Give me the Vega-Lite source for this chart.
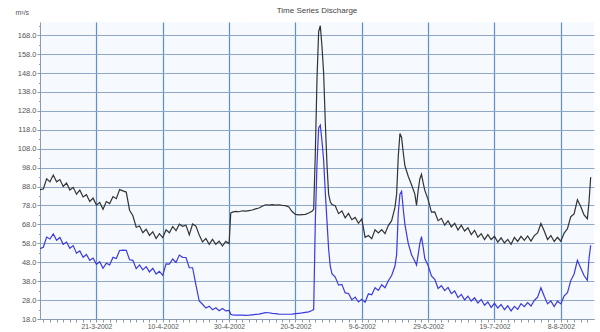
{
  "$schema": "https://vega.github.io/schema/vega-lite/v6.json",
  "autosize": "none",
  "width": 554,
  "height": 297,
  "padding": {"left": 40, "top": 22, "right": 6, "bottom": 13},
  "background": "white",
  "title": {"text": "Time Series Discharge", "fontSize": 8, "fontWeight": "normal", "color": "#444", "font": "Liberation Sans", "offset": -7},
  "data": {"values": [
    {"t":"2002-03-04","upper":86.4,"lower":55.2},
    {"t":"2002-03-05","upper":86.7,"lower":55.9},
    {"t":"2002-03-06","upper":92.1,"lower":61.3},
    {"t":"2002-03-07","upper":90.5,"lower":60.3},
    {"t":"2002-03-08","upper":94.1,"lower":63},
    {"t":"2002-03-09","upper":90.5,"lower":59.6},
    {"t":"2002-03-10","upper":91.7,"lower":61.1},
    {"t":"2002-03-11","upper":88.1,"lower":57.5},
    {"t":"2002-03-12","upper":89.9,"lower":58.7},
    {"t":"2002-03-13","upper":86.2,"lower":55.4},
    {"t":"2002-03-14","upper":87.6,"lower":56.8},
    {"t":"2002-03-15","upper":84,"lower":52.8},
    {"t":"2002-03-16","upper":86.1,"lower":54},
    {"t":"2002-03-17","upper":82.5,"lower":50.6},
    {"t":"2002-03-18","upper":83.7,"lower":52.1},
    {"t":"2002-03-19","upper":80.1,"lower":49},
    {"t":"2002-03-20","upper":81.9,"lower":50.2},
    {"t":"2002-03-21","upper":78.2,"lower":46.9},
    {"t":"2002-03-22","upper":79.6,"lower":48.3},
    {"t":"2002-03-23","upper":76,"lower":44.8},
    {"t":"2002-03-24","upper":80.1,"lower":47.5},
    {"t":"2002-03-25","upper":79,"lower":46.6},
    {"t":"2002-03-26","upper":82.7,"lower":50.6},
    {"t":"2002-03-27","upper":81.6,"lower":50},
    {"t":"2002-03-28","upper":86.4,"lower":54.2},
    {"t":"2002-03-29","upper":85.7,"lower":54.4},
    {"t":"2002-03-30","upper":85.1,"lower":54.3},
    {"t":"2002-03-31","upper":75.5,"lower":49.3},
    {"t":"2002-04-01","upper":72.6,"lower":49},
    {"t":"2002-04-02","upper":66.5,"lower":44.6},
    {"t":"2002-04-03","upper":67.2,"lower":46.6},
    {"t":"2002-04-04","upper":63.6,"lower":44},
    {"t":"2002-04-05","upper":65.4,"lower":45.7},
    {"t":"2002-04-06","upper":62.2,"lower":42.9},
    {"t":"2002-04-07","upper":64.1,"lower":44.8},
    {"t":"2002-04-08","upper":60.5,"lower":41.8},
    {"t":"2002-04-09","upper":63.1,"lower":43.2},
    {"t":"2002-04-10","upper":61,"lower":41.1},
    {"t":"2002-04-11","upper":65.2,"lower":47.1},
    {"t":"2002-04-12","upper":63.6,"lower":47},
    {"t":"2002-04-13","upper":66.9,"lower":49.7},
    {"t":"2002-04-14","upper":64.7,"lower":47.9},
    {"t":"2002-04-15","upper":68.1,"lower":51.8},
    {"t":"2002-04-16","upper":67,"lower":50.6},
    {"t":"2002-04-17","upper":67.6,"lower":50.5},
    {"t":"2002-04-18","upper":62.5,"lower":45.1},
    {"t":"2002-04-19","upper":68.2,"lower":45.1},
    {"t":"2002-04-20","upper":67.1,"lower":36},
    {"t":"2002-04-21","upper":62.4,"lower":27.5},
    {"t":"2002-04-22","upper":58.7,"lower":25.8},
    {"t":"2002-04-23","upper":60.6,"lower":23.8},
    {"t":"2002-04-24","upper":57.5,"lower":24.8},
    {"t":"2002-04-25","upper":60.1,"lower":22.9},
    {"t":"2002-04-26","upper":57.5,"lower":23.9},
    {"t":"2002-04-27","upper":59.2,"lower":22.4},
    {"t":"2002-04-28","upper":56.6,"lower":23.6},
    {"t":"2002-04-29","upper":59,"lower":22.3},
    {"t":"2002-04-30T00:00Z","upper":57.8,"lower":22.5},
    {"t":"2002-04-30T12:00Z","upper":74,"lower":20.5},
    {"t":"2002-05-01","upper":74.5,"lower":20.2},
    {"t":"2002-05-02","upper":74.9,"lower":20.1},
    {"t":"2002-05-03","upper":74.7,"lower":20},
    {"t":"2002-05-04","upper":75.2,"lower":20},
    {"t":"2002-05-05","upper":75,"lower":19.9},
    {"t":"2002-05-06","upper":75.3,"lower":20},
    {"t":"2002-05-07","upper":75.6,"lower":20.2},
    {"t":"2002-05-08","upper":76.2,"lower":20.4},
    {"t":"2002-05-09","upper":76.7,"lower":20.6},
    {"t":"2002-05-10","upper":77.6,"lower":21},
    {"t":"2002-05-11","upper":78.4,"lower":21.4},
    {"t":"2002-05-12","upper":78.2,"lower":21.3},
    {"t":"2002-05-13","upper":78.5,"lower":21},
    {"t":"2002-05-14","upper":78.2,"lower":20.8},
    {"t":"2002-05-15","upper":78.4,"lower":20.6},
    {"t":"2002-05-16","upper":78.1,"lower":20.5},
    {"t":"2002-05-17","upper":77.9,"lower":20.5},
    {"t":"2002-05-18","upper":77.2,"lower":20.5},
    {"t":"2002-05-19","upper":74.8,"lower":20.6},
    {"t":"2002-05-20","upper":73.3,"lower":20.8},
    {"t":"2002-05-21","upper":73,"lower":21},
    {"t":"2002-05-22","upper":73.2,"lower":21.2},
    {"t":"2002-05-23","upper":73.3,"lower":21.5},
    {"t":"2002-05-24","upper":74,"lower":21.8},
    {"t":"2002-05-25","upper":75,"lower":22.5},
    {"t":"2002-05-25T12:00Z","upper":76,"lower":23},
    {"t":"2002-05-26","upper":106,"lower":70},
    {"t":"2002-05-26T12:00Z","upper":145,"lower":100},
    {"t":"2002-05-27","upper":170,"lower":119},
    {"t":"2002-05-27T12:00Z","upper":173,"lower":120.5},
    {"t":"2002-05-28","upper":162,"lower":112},
    {"t":"2002-05-28T12:00Z","upper":148,"lower":102},
    {"t":"2002-05-29","upper":122,"lower":85},
    {"t":"2002-05-29T12:00Z","upper":100,"lower":70},
    {"t":"2002-05-30","upper":84,"lower":55},
    {"t":"2002-05-30T12:00Z","upper":80,"lower":46},
    {"t":"2002-05-31","upper":78.5,"lower":42},
    {"t":"2002-06-01","upper":77.9,"lower":40.2},
    {"t":"2002-06-02","upper":73.7,"lower":35.9},
    {"t":"2002-06-03","upper":75.1,"lower":36.3},
    {"t":"2002-06-04","upper":71.5,"lower":31.8},
    {"t":"2002-06-05","upper":73.8,"lower":31.5},
    {"t":"2002-06-06","upper":70.5,"lower":28.1},
    {"t":"2002-06-07","upper":71.7,"lower":29.6},
    {"t":"2002-06-08","upper":68.6,"lower":27},
    {"t":"2002-06-09","upper":70.9,"lower":28.4},
    {"t":"2002-06-10","upper":61.2,"lower":26.9},
    {"t":"2002-06-11","upper":62.1,"lower":31.3},
    {"t":"2002-06-12","upper":60.5,"lower":30.8},
    {"t":"2002-06-13","upper":65.1,"lower":34.5},
    {"t":"2002-06-14","upper":63.5,"lower":33.1},
    {"t":"2002-06-15","upper":65.2,"lower":36.1},
    {"t":"2002-06-16","upper":63.1,"lower":34.5},
    {"t":"2002-06-17","upper":67.4,"lower":38.2},
    {"t":"2002-06-18","upper":70,"lower":41},
    {"t":"2002-06-19","upper":77,"lower":46},
    {"t":"2002-06-19T12:00Z","upper":84,"lower":52},
    {"t":"2002-06-20","upper":104,"lower":74},
    {"t":"2002-06-20T12:00Z","upper":116,"lower":84},
    {"t":"2002-06-21","upper":114,"lower":85.5},
    {"t":"2002-06-21T12:00Z","upper":106,"lower":76},
    {"t":"2002-06-22","upper":99,"lower":68},
    {"t":"2002-06-23","upper":93.5,"lower":58},
    {"t":"2002-06-24","upper":89,"lower":52},
    {"t":"2002-06-25","upper":84,"lower":48.5},
    {"t":"2002-06-25T12:00Z","upper":78,"lower":46.5},
    {"t":"2002-06-26","upper":86,"lower":52},
    {"t":"2002-06-26T12:00Z","upper":92,"lower":58},
    {"t":"2002-06-27","upper":94.5,"lower":61.5},
    {"t":"2002-06-27T12:00Z","upper":90,"lower":56},
    {"t":"2002-06-28","upper":86,"lower":50},
    {"t":"2002-06-29","upper":81.1,"lower":46.3},
    {"t":"2002-06-30","upper":74.5,"lower":40.8},
    {"t":"2002-07-01","upper":74.6,"lower":39},
    {"t":"2002-07-02","upper":70,"lower":34.1},
    {"t":"2002-07-03","upper":71.2,"lower":35.6},
    {"t":"2002-07-04","upper":67.6,"lower":33},
    {"t":"2002-07-05","upper":69.9,"lower":34.7},
    {"t":"2002-07-06","upper":66.7,"lower":31.4},
    {"t":"2002-07-07","upper":68.6,"lower":32.8},
    {"t":"2002-07-08","upper":65,"lower":29.3},
    {"t":"2002-07-09","upper":67.6,"lower":31},
    {"t":"2002-07-10","upper":64.5,"lower":28.1},
    {"t":"2002-07-11","upper":66.2,"lower":30.1},
    {"t":"2002-07-12","upper":62.6,"lower":27.5},
    {"t":"2002-07-13","upper":64.9,"lower":29.2},
    {"t":"2002-07-14","upper":61.2,"lower":26.4},
    {"t":"2002-07-15","upper":63.1,"lower":28.3},
    {"t":"2002-07-16","upper":60,"lower":25.3},
    {"t":"2002-07-17","upper":62.6,"lower":27},
    {"t":"2002-07-18","upper":60,"lower":24.1},
    {"t":"2002-07-19","upper":61.7,"lower":26.3},
    {"t":"2002-07-20","upper":58.6,"lower":23.8},
    {"t":"2002-07-21","upper":60.9,"lower":25.7},
    {"t":"2002-07-22","upper":58.2,"lower":22.9},
    {"t":"2002-07-23","upper":60.1,"lower":25},
    {"t":"2002-07-24","upper":57.5,"lower":22.3},
    {"t":"2002-07-25","upper":61.1,"lower":24.7},
    {"t":"2002-07-26","upper":59,"lower":23.1},
    {"t":"2002-07-27","upper":61.7,"lower":26.1},
    {"t":"2002-07-28","upper":59.6,"lower":24.5},
    {"t":"2002-07-29","upper":61.9,"lower":26.7},
    {"t":"2002-07-30","upper":59.2,"lower":24.9},
    {"t":"2002-07-31","upper":62.1,"lower":27.8},
    {"t":"2002-08-01","upper":63.5,"lower":29.5},
    {"t":"2002-08-02","upper":68.5,"lower":34.5},
    {"t":"2002-08-03","upper":64.5,"lower":30},
    {"t":"2002-08-04","upper":60,"lower":26},
    {"t":"2002-08-05","upper":62.1,"lower":27.5},
    {"t":"2002-08-06","upper":59,"lower":24.6},
    {"t":"2002-08-07","upper":61.2,"lower":27.4},
    {"t":"2002-08-08","upper":59.1,"lower":26},
    {"t":"2002-08-09","upper":63.4,"lower":30.2},
    {"t":"2002-08-10","upper":65.7,"lower":31.9},
    {"t":"2002-08-11","upper":72.1,"lower":38.3},
    {"t":"2002-08-12","upper":73.5,"lower":41.8},
    {"t":"2002-08-13","upper":81,"lower":49},
    {"t":"2002-08-14","upper":77.5,"lower":45},
    {"t":"2002-08-15","upper":73,"lower":41},
    {"t":"2002-08-16","upper":71,"lower":38.5},
    {"t":"2002-08-16T12:00Z","upper":80,"lower":50},
    {"t":"2002-08-17","upper":93,"lower":57}
  ]},
  "transform": [{"fold": ["upper", "lower"], "as": ["series", "q"]}],
  "mark": {"type": "line", "strokeWidth": 1.2, "clip": true},
  "encoding": {
    "x": {
      "field": "t", "type": "temporal",
      "scale": {"type": "utc", "domain": [{"year": 2002, "month": 3, "date": 4, "utc": true}, {"year": 2002, "month": 8, "date": 18, "utc": true}]},
      "axis": {
        "title": null,
        "values": {"expr": "sequence(utc(2002,2,5), utc(2002,7,17), 172800000)"},
        "labelExpr": "(datum.value - utc(2002,2,21)) % 1728000000 == 0 ? utcFormat(datum.value, '%-d-%-m-%Y') : ''",
        "labelOverlap": false,
        "labelFlush": false,
        "labelFont": "Liberation Sans",
        "labelFontSize": 6.8,
        "labelColor": "#555",
        "labelPadding": 1,
        "tickSize": 3,
        "tickColor": "#8a9ab0",
        "domainColor": "#8a9ab0",
        "grid": true,
        "gridColor": "#5b8fd0",
        "gridWidth": 1.2,
        "gridOpacity": {"condition": {"test": "(datum.value - utc(2002,2,21)) % 1728000000 == 0", "value": 1}, "value": 0}
      }
    },
    "y": {
      "field": "q", "type": "quantitative",
      "scale": {"domain": [18, 175], "nice": false, "zero": false},
      "axis": {
        "title": "m³/s",
        "titleAngle": 0,
        "titleAlign": "left",
        "titleBaseline": "middle",
        "titleX": -25,
        "titleY": -10,
        "titleFont": "Liberation Sans",
        "titleFontSize": 7,
        "titleFontWeight": "normal",
        "titleColor": "#555",
        "values": {"expr": "sequence(18, 176, 5)"},
        "labelExpr": "(datum.value - 18) % 10 == 0 ? format(datum.value, '.1f') : ''",
        "labelOverlap": false,
        "labelFont": "Liberation Sans",
        "labelFontSize": 7.5,
        "labelColor": "#555",
        "labelPadding": 1,
        "tickSize": {"condition": {"test": "(datum.value - 18) % 10 == 0", "value": 3}, "value": 1.5},
        "tickColor": "#8a9ab0",
        "domainColor": "#8a9ab0",
        "grid": true,
        "gridColor": "#8ea8c6",
        "gridWidth": 1,
        "gridOpacity": {"condition": {"test": "(datum.value - 18) % 10 == 0", "value": 1}, "value": 0}
      }
    },
    "color": {
      "field": "series", "type": "nominal",
      "scale": {"domain": ["upper", "lower"], "range": ["#333333", "#3b3bdc"]},
      "legend": null
    }
  },
  "config": {"view": {"stroke": null, "fill": "#f6f9fd"}}
}
